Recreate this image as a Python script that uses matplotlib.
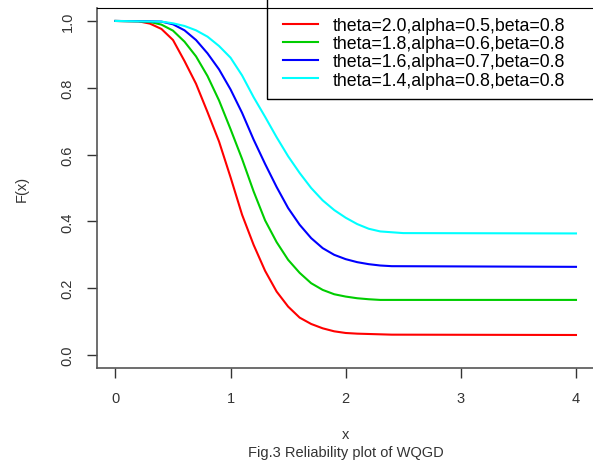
import matplotlib
matplotlib.use("Agg")
import matplotlib.pyplot as plt
from matplotlib.patches import Rectangle

plt.rcParams["font.family"] = ["Liberation Sans", "DejaVu Sans"]

# values
x_red = [0, 0.2, 0.3, 0.4, 0.5, 0.6, 0.7, 0.8, 0.9, 1.0, 1.1, 1.2, 1.3, 1.4, 1.5, 1.6, 1.7, 1.8, 1.9, 2.0, 2.1, 2.2, 2.4, 4.0]
y_red = [1.0, 0.999, 0.992, 0.976, 0.943, 0.880, 0.812, 0.727, 0.639, 0.532, 0.42, 0.33, 0.252, 0.19, 0.145, 0.112, 0.093, 0.080, 0.071, 0.066, 0.064, 0.063, 0.061, 0.060]

x_green = [0, 0.2, 0.3, 0.4, 0.5, 0.6, 0.7, 0.8, 0.9, 1.0, 1.1, 1.2, 1.3, 1.4, 1.5, 1.6, 1.7, 1.8, 1.9, 2.0, 2.1, 2.2, 2.3, 4.0]
y_green = [1.0, 0.999, 0.997, 0.989, 0.971, 0.938, 0.894, 0.835, 0.762, 0.676, 0.587, 0.49, 0.403, 0.338, 0.285, 0.246, 0.215, 0.195, 0.182, 0.175, 0.170, 0.167, 0.165, 0.165]

x_blue = [0, 0.3, 0.4, 0.5, 0.6, 0.7, 0.8, 0.9, 1.0, 1.1, 1.2, 1.3, 1.4, 1.5, 1.6, 1.7, 1.8, 1.9, 2.0, 2.1, 2.2, 2.3, 2.4, 4.0]
y_blue = [1.0, 0.999, 0.998, 0.99, 0.972, 0.943, 0.903, 0.855, 0.795, 0.725, 0.645, 0.572, 0.503, 0.44, 0.39, 0.35, 0.32, 0.30, 0.287, 0.278, 0.272, 0.268, 0.266, 0.264]

x_cyan = [0, 0.4, 0.5, 0.6, 0.7, 0.8, 0.9, 1.0, 1.1, 1.2, 1.3, 1.4, 1.5, 1.6, 1.7, 1.8, 1.9, 2.0, 2.1, 2.2, 2.3, 2.5, 4.0]
y_cyan = [1.0, 0.998, 0.993, 0.985, 0.972, 0.953, 0.925, 0.89, 0.837, 0.772, 0.713, 0.652, 0.595, 0.545, 0.50, 0.463, 0.434, 0.411, 0.392, 0.378, 0.370, 0.365, 0.364]

labels = ["theta=2.0,alpha=0.5,beta=0.8",
          "theta=1.8,alpha=0.6,beta=0.8",
          "theta=1.6,alpha=0.7,beta=0.8",
          "theta=1.4,alpha=0.8,beta=0.8"]
colors = ["#ff0000", "#00cd00", "#0000ff", "#00ffff"]

fig = plt.figure(figsize=(5.93, 4.64), dpi=100)
ax = fig.add_axes([97 / 593, (464 - 369.4) / 464, (594.4 - 97) / 593, (369.4 - 8.6) / 464])

series = [(x_red, y_red), (x_green, y_green), (x_blue, y_blue), (x_cyan, y_cyan)]
for (xs, ys), c, lab in zip(series, colors, labels):
    ax.plot(xs, ys, color=c, lw=1.5, label=lab)

ax.set_xlim(-0.16, 4.16)
ax.set_ylim(-0.04, 1.04)
ax.set_xticks([0, 1, 2, 3, 4])
ax.set_yticks([0.0, 0.2, 0.4, 0.6, 0.8, 1.0])
ax.set_yticklabels(["0.0", "0.2", "0.4", "0.6", "0.8", "1.0"], rotation=90, va="center")
ax.tick_params(axis="both", length=7, width=1, color="#333333", labelcolor="#333333", labelsize=10.5)
ax.tick_params(axis="x", pad=9)
ax.tick_params(axis="y", pad=9)

for side in ["left", "bottom"]:
    ax.spines[side].set_color("#555555")
    ax.spines[side].set_linewidth(1.2)
ax.spines["top"].set_color("black")
ax.spines["right"].set_visible(False)

ax.set_ylabel("F(x)", fontsize=10.5, color="#333333", labelpad=23)
ax.set_xlabel("x", fontsize=10.5, color="#333333", labelpad=16)
fig.text(345.5 / 593, 1 - 453 / 464, "Fig.3 Reliability plot of WQGD", ha="center", va="center",
         fontsize=10.5, color="#333333")

# legend frame, R style: anchored top right, extends past the right edge
ax.add_patch(Rectangle((0.3418, 0.7467), 0.7, 0.3, transform=ax.transAxes, fill=False,
                       edgecolor="black", lw=1.0, clip_on=False, zorder=5))
leg = ax.legend(loc="upper left", bbox_to_anchor=(0.374, 0.974), borderaxespad=0, frameon=False,
                fontsize=12.8, handlelength=1.95, handletextpad=0.85, labelspacing=0.07,
                borderpad=0)

fig.savefig("out.png", dpi=100)
